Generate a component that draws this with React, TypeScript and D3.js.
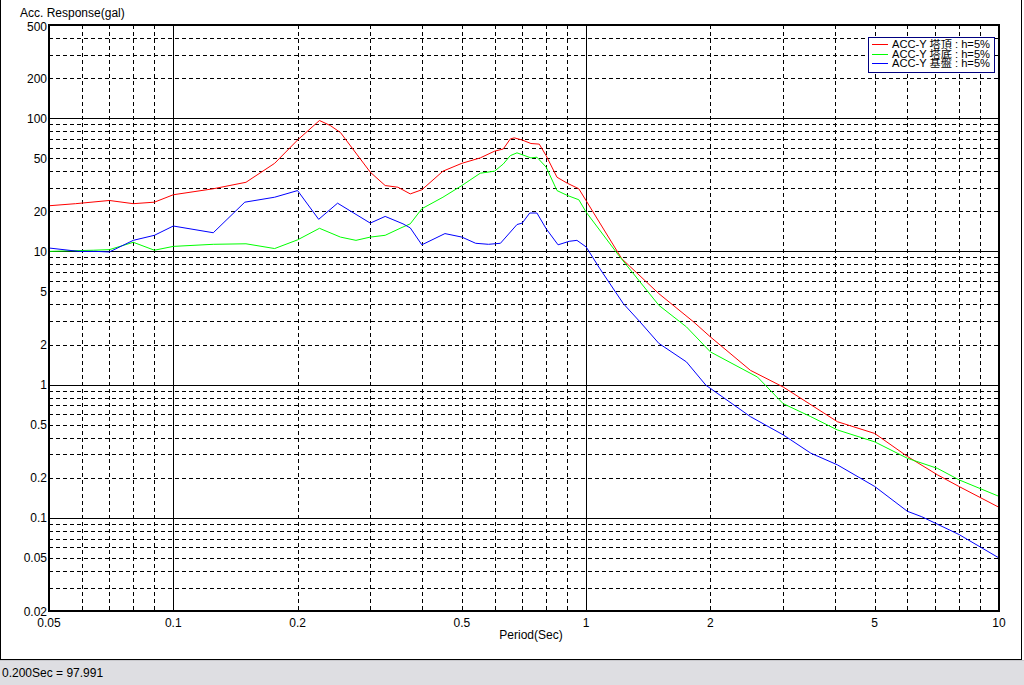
import React from "react";
import * as d3 from "d3";

const xTickLabels = [0.05, 0.1, 0.2, 0.5, 1, 2, 5, 10];
const yTickLabels = [500, 200, 100, 50, 20, 10, 5, 2, 1, 0.5, 0.2, 0.1, 0.05, 0.02];

const seriesNames = ["ACC-Y 塔頂 : h=5%", "ACC-Y 塔底 : h=5%", "ACC-Y 基盤 : h=5%"];
const seriesColors = ["#ff0000", "#00ff00", "#0000ff"];

const topPeriods = [0.05, 0.058, 0.07, 0.08, 0.09, 0.1, 0.125, 0.15, 0.176, 0.2, 0.226, 0.24, 0.254, 0.3, 0.326, 0.35, 0.375, 0.4, 0.45, 0.5, 0.554, 0.6, 0.63, 0.655, 0.67, 0.7, 0.735, 0.77, 0.8, 0.85, 0.9, 0.96, 1.0, 1.22, 1.5, 1.82, 2.0, 2.5, 3.0, 4.06, 5.0, 6.0, 7.1, 8.0, 10];
const topValues = [22.0, 22.8, 24.1, 22.8, 23.4, 26.6, 29.5, 33.0, 45.8, 68.5, 96, 88, 78, 39.3, 31.2, 30.3, 27.0, 29.0, 40.0, 45.8, 50.3, 56.5, 58.7, 69.8, 71.1, 68.5, 64.5, 63.8, 52.3, 36.0, 32.5, 29.5, 24.0, 8.8, 4.82, 2.96, 2.28, 1.28, 0.96, 0.527, 0.43, 0.289, 0.21, 0.172, 0.12];

const basePeriods = [0.05, 0.064, 0.07, 0.08, 0.09, 0.1, 0.125, 0.15, 0.176, 0.2, 0.226, 0.254, 0.277, 0.3, 0.326, 0.356, 0.375, 0.4, 0.45, 0.5, 0.554, 0.6, 0.63, 0.655, 0.68, 0.735, 0.76, 0.8, 0.85, 0.9, 0.96, 1.0, 1.2, 1.5, 1.75, 2.0, 2.6, 3.0, 3.5, 4.06, 5.0, 6.0, 7.1, 8.0, 10];
const baseValues = [10.0, 10.2, 10.3, 11.7, 10.2, 10.9, 11.3, 11.4, 10.5, 12.2, 14.9, 12.8, 12.1, 12.8, 13.2, 15.0, 16.1, 20.9, 25.5, 31.2, 38.6, 40, 45.3, 52.3, 54.9, 50.3, 50.9, 42.9, 28.6, 26.3, 24.4, 19.7, 9.3, 3.94, 2.71, 1.76, 1.14, 0.72, 0.575, 0.457, 0.372, 0.28, 0.235, 0.193, 0.145];

const groundPeriods = [0.05, 0.059, 0.065, 0.07, 0.08, 0.09, 0.1, 0.125, 0.149, 0.176, 0.2, 0.225, 0.25, 0.3, 0.326, 0.36, 0.375, 0.4, 0.455, 0.5, 0.54, 0.58, 0.62, 0.68, 0.7, 0.73, 0.76, 0.8, 0.855, 0.91, 0.95, 1.0, 1.08, 1.23, 1.35, 1.5, 1.75, 1.95, 2.5, 3.0, 3.5, 4.06, 5.0, 6.0, 6.5, 8.0, 10];
const groundValues = [10.6, 10.0, 10.0, 9.9, 12.1, 13.2, 15.5, 13.8, 23.4, 25.5, 28.6, 17.4, 23.0, 16.3, 18.3, 16.1, 15.0, 11.2, 13.6, 12.8, 11.5, 11.3, 11.5, 15.9, 16.3, 19.4, 19.4, 14.8, 11.2, 11.9, 12.1, 10.8, 7.4, 4.06, 2.96, 2.04, 1.48, 0.99, 0.575, 0.42, 0.306, 0.25, 0.172, 0.112, 0.102, 0.075, 0.05];

const yAxisTitle = "Acc. Response(gal)";
const xAxisTitle = "Period(Sec)";
const statusText = "0.200Sec = 97.991";

const FONT = "'Liberation Sans', Arial, 'Noto Sans CJK JP', sans-serif";

function minorValues(lo: number, hi: number): number[] {
  const out: number[] = [];
  for (let d = Math.floor(Math.log10(lo)); d <= Math.ceil(Math.log10(hi)); d++) {
    for (let k = 1; k <= 9; k++) {
      const v = +(k * Math.pow(10, d)).toPrecision(6);
      if (v > lo * 1.0001 && v < hi * 0.9999) out.push(v);
    }
  }
  return out;
}

export default function App() {
  const W = 1024, H = 685;
  const x = d3.scaleLog().domain([0.05, 10]).range([49, 999]);
  const y = d3.scaleLog().domain([0.02, 500]).range([611, 25]);

  const xGrid = minorValues(0.05, 10);
  const yGrid = minorValues(0.02, 500);
  const isDecade = (v: number) => Math.abs(Math.log10(v) - Math.round(Math.log10(v))) < 1e-6;

  const series = [
    { name: seriesNames[0], color: seriesColors[0], t: topPeriods, v: topValues },
    { name: seriesNames[1], color: seriesColors[1], t: basePeriods, v: baseValues },
    { name: seriesNames[2], color: seriesColors[2], t: groundPeriods, v: groundValues },
  ];
  const line = d3.line<[number, number]>().x((d) => x(d[0])).y((d) => y(d[1]));

  return (
    <svg width={W} height={H} style={{ position: "absolute", left: 0, top: 0, display: "block" }} fontFamily={FONT}>
      <rect x={0} y={0} width={W} height={H} fill="#ffffff" />
      {/* window frame */}
      <line x1={0.5} y1={0} x2={0.5} y2={659} stroke="#000" />
      <line x1={1021.5} y1={0} x2={1021.5} y2={659} stroke="#000" />
      <line x1={0} y1={659.5} x2={1022} y2={659.5} stroke="#000" />
      {/* status bar */}
      <rect x={0} y={660} width={W} height={25} fill="#dedee2" />
      <line x1={0} y1={660.5} x2={W} y2={660.5} stroke="#c8c8cc" />
      <text x={2} y={677} fontSize={12} fill="#000">{statusText}</text>

      {/* grid */}
      <g shapeRendering="crispEdges">
        {xGrid.map((v, i) => (
          <line key={"xg" + i} x1={Math.round(x(v)) + 0.5} x2={Math.round(x(v)) + 0.5} y1={25} y2={611}
            stroke="#000" strokeWidth={1} strokeDasharray={isDecade(v) ? undefined : "4,3"} />
        ))}
        {yGrid.map((v, i) => (
          <line key={"yg" + i} y1={Math.round(y(v)) + 0.5} y2={Math.round(y(v)) + 0.5} x1={49} x2={999}
            stroke="#000" strokeWidth={1} strokeDasharray={isDecade(v) ? undefined : "4,3"} />
        ))}
      </g>

      {/* series */}
      <g fill="none" strokeWidth={1}>
        {series.map((s, i) => (
          <path key={i} d={line(s.t.map((t, j) => [t, s.v[j]] as [number, number])) || ""} stroke={s.color} />
        ))}
      </g>

      {/* plot frame */}
      <rect x={49} y={25} width={950} height={586} fill="none" stroke="#000" strokeWidth={2} shapeRendering="crispEdges" />

      {/* y tick labels */}
      {yTickLabels.map((v, i) => (
        <text key={"yl" + i} x={47} y={y(v) + (v === 500 ? 5.5 : 4.5)} fontSize={12} textAnchor="end" fill="#000">{String(v)}</text>
      ))}
      {/* x tick labels */}
      {xTickLabels.map((v, i) => (
        <text key={"xl" + i} x={x(v)} y={627} fontSize={12} textAnchor="middle" fill="#000">{String(v)}</text>
      ))}
      <text x={531} y={639} fontSize={12} textAnchor="middle" fill="#000">{xAxisTitle}</text>
      <text x={20} y={16.5} fontSize={12} fill="#000">{yAxisTitle}</text>

      {/* legend */}
      <rect x={868.5} y={37.5} width={126} height={35} fill="#fff" stroke="#000080" strokeWidth={1} shapeRendering="crispEdges" />
      {series.map((s, i) => (
        <g key={"lg" + i}>
          <line x1={872} x2={888} y1={44.5 + i * 9.7} y2={44.5 + i * 9.7} stroke={s.color} shapeRendering="crispEdges" />
          <text x={892} y={48 + i * 9.7} fontSize={10} fill="#000" textLength={98} lengthAdjust="spacingAndGlyphs">{s.name}</text>
        </g>
      ))}
    </svg>
  );
}
